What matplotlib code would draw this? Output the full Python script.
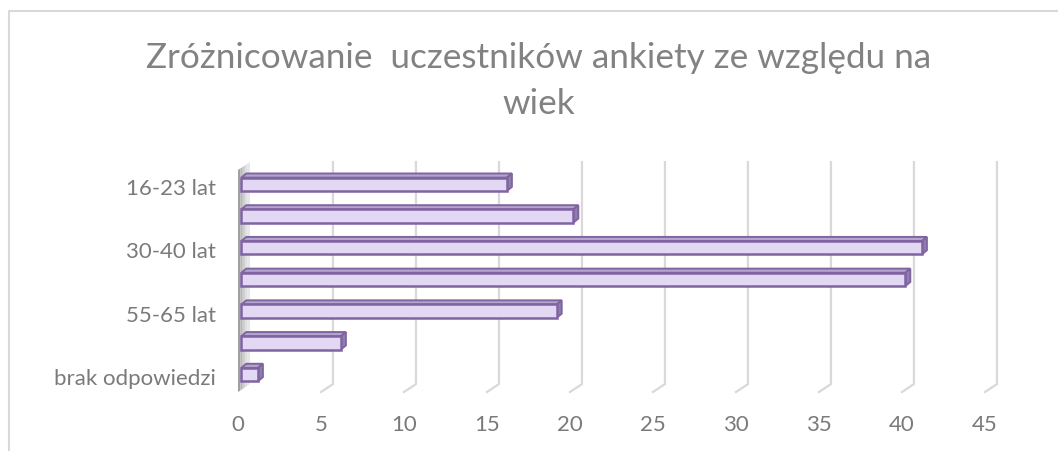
import numpy as np
import matplotlib.pyplot as plt
from matplotlib.lines import Line2D
from matplotlib.colors import LinearSegmentedColormap

plt.rcParams['font.family'] = ['Lato', 'DejaVu Sans']

# age groups, top to bottom (only every other label is shown, like in Excel)
categories = ['16-23 lat', '24-29 lat', '30-40 lat', '41-54 lat',
              '55-65 lat', 'powyżej 65 lat', 'brak odpowiedzi']
values = [16, 20, 41, 40, 19, 6, 1]
xticks = [0, 5, 10, 15, 20, 25, 30, 35, 40, 45]

title = 'Zróżnicowanie  uczestników ankiety ze względu na\nwiek'
grey_txt = '#7a7a7a'

W, H = 1058, 452
fig = plt.figure(figsize=(W / 100, H / 100), dpi=100)
ax = fig.add_axes([238 / W, 1 - 393 / H, (985 - 238) / W, (393 - 171) / H])
ax.set_xlim(0, 45)
ax.set_ylim(-0.5, 6.5)

n = len(categories)
pos = np.arange(n)[::-1]

# 3d offsets in data units
wall_dx, wall_dy = 0.72, 0.25
bar_dx, bar_dy = 0.3, 0.13
shift_x, shift_y = 0.2, 0.05
h = 0.42

# back wall gridlines with the little floor diagonal
for t in xticks[1:]:
    ax.plot([t, t + wall_dx, t + wall_dx], [-0.5, -0.5 + wall_dy, 6.5 + wall_dy],
            color='#d9d9d9', lw=1.6, clip_on=False, zorder=1)

# left side wall, shaded darker at the front edge
wall_cols = ['#a0a0a0', '#b8b8b8', '#cfcfcf', '#dedede', '#e6e6e6']
for i, c in enumerate(wall_cols):
    a = wall_dx * i / len(wall_cols)
    b = wall_dx * (i + 1) / len(wall_cols)
    ay = wall_dy * i / len(wall_cols)
    by = wall_dy * (i + 1) / len(wall_cols)
    ax.fill([a, b, b, a], [-0.5 + ay, -0.5 + by, 6.5 + by, 6.5 + ay],
            color=c, lw=0, clip_on=False, zorder=2)

cmap = LinearSegmentedColormap.from_list('lav', ['#d6c8ee', '#ebe3f8', '#ddd0f1'])
grad = np.linspace(0, 1, 50).reshape(-1, 1)
edge = '#8064a2'

bars = ax.barh(pos + shift_y, values, left=shift_x, height=h,
               color='#e2d8f4', edgecolor=edge, lw=1.8, zorder=5)
for b, v, y in zip(bars, values, pos + shift_y):
    x0, x1 = shift_x, shift_x + v
    y0, y1 = y - h / 2, y + h / 2
    im = ax.imshow(grad, extent=(x0, x1, y0, y1), cmap=cmap, aspect='auto',
                   origin='upper', zorder=4.5, interpolation='bilinear')
    im.set_clip_path(b)
    # top face
    ax.fill([x0, x1, x1 + bar_dx, x0 + bar_dx], [y1, y1, y1 + bar_dy, y1 + bar_dy],
            facecolor='#b3a6cb', edgecolor=edge, lw=1.4, zorder=4, clip_on=False)
    # right face
    ax.fill([x1, x1 + bar_dx, x1 + bar_dx, x1], [y0, y0 + bar_dy, y1 + bar_dy, y1],
            facecolor='#8f7fac', edgecolor=edge, lw=1.4, zorder=4, clip_on=False)

ax.set_xlim(0, 45)
ax.set_ylim(-0.5, 6.5)

ax.set_xticks(xticks, [str(t) for t in xticks])
ax.set_yticks(pos[::2], categories[::2])
ax.tick_params(axis='x', length=0, pad=16, labelsize=16, labelcolor=grey_txt)
ax.tick_params(axis='y', length=0, pad=16, labelsize=16, labelcolor=grey_txt)
for s in ax.spines.values():
    s.set_visible(False)
ax.patch.set_alpha(0)

fig.text(539 / W, 1 - 81 / H, title, ha='center', va='center', fontsize=25.3,
         color='#828282', linespacing=1.55)

# chart border (only top and left visible in the crop)
fig.add_artist(Line2D([9 / W, 9 / W, 1], [0, 1 - 12 / H, 1 - 12 / H],
                      color='#d9d9d9', lw=1.5, transform=fig.transFigure))

fig.savefig('out.png', dpi=100)
